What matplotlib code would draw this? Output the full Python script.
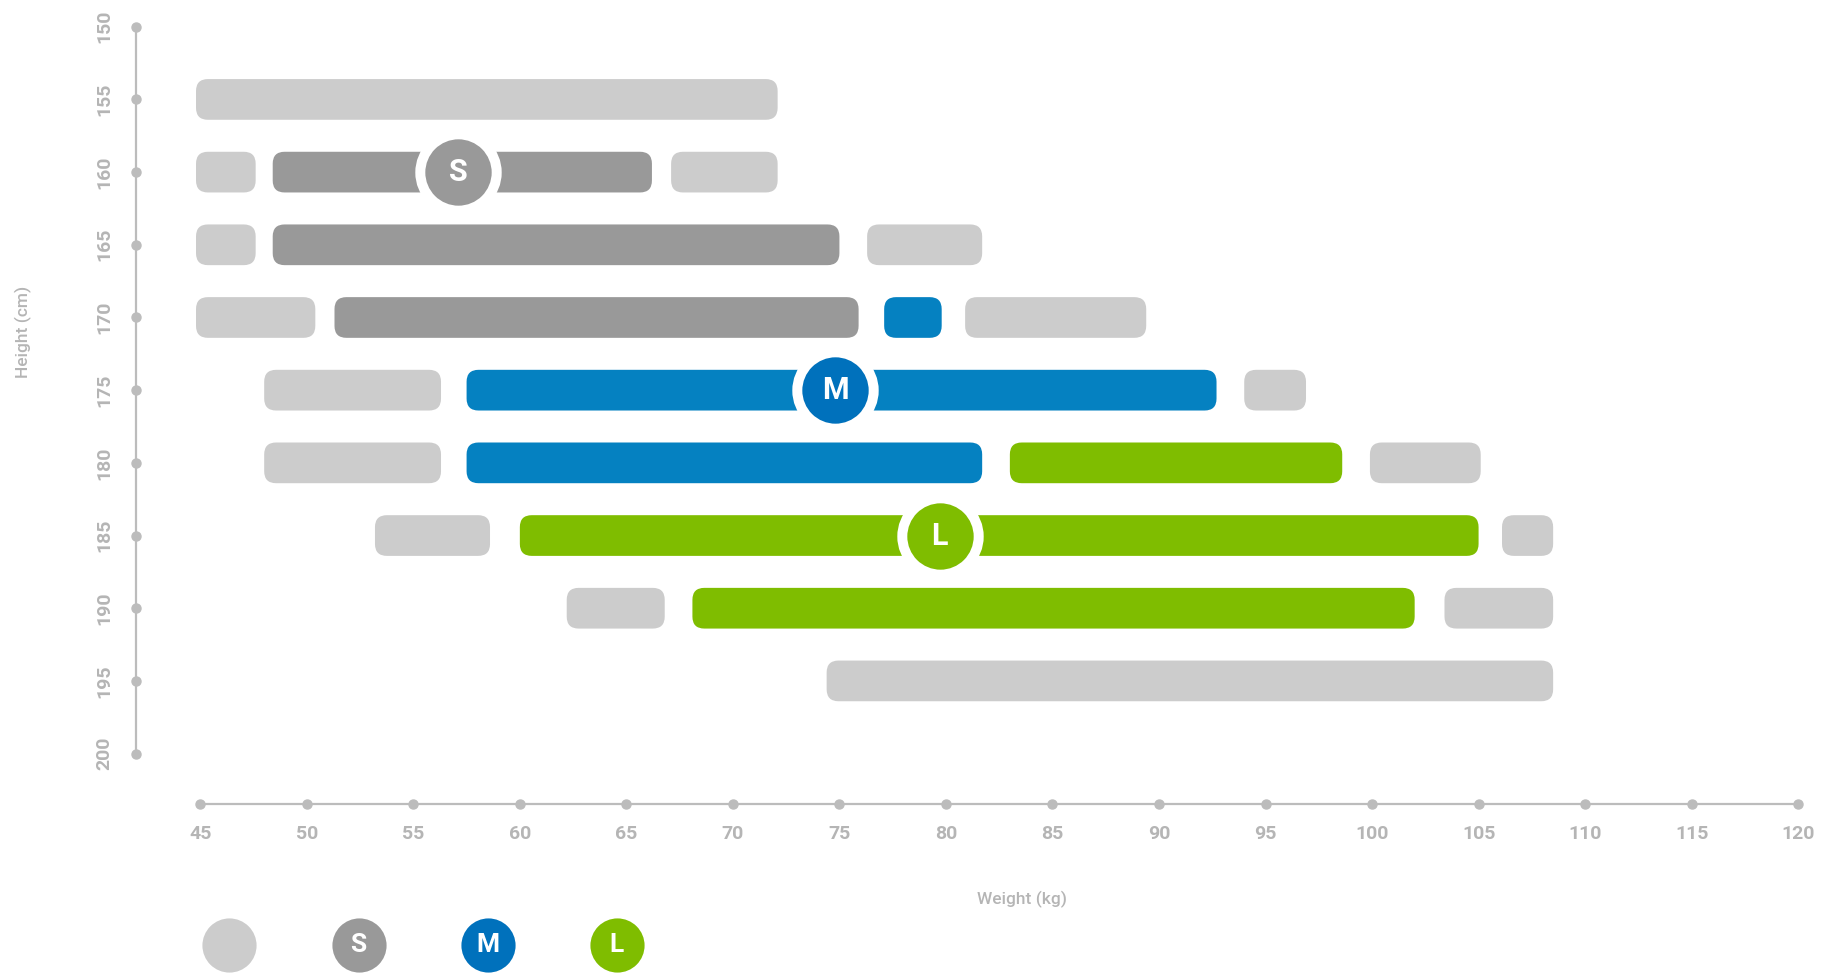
import numpy as np
import matplotlib.pyplot as plt
from matplotlib.patches import FancyBboxPatch

plt.rcParams["font.family"] = ["Roboto", "DejaVu Sans"]

# weight ticks (kg) and height ticks (cm)
weight_ticks = [45, 50, 55, 60, 65, 70, 75, 80, 85, 90, 95, 100, 105, 110, 115, 120]
height_ticks = [150, 155, 160, 165, 170, 175, 180, 185, 190, 195, 200]

# light grey segments (outside recommended range)
light_rows = [155, 160, 160, 165, 165, 170, 170, 175, 175, 180, 180, 185, 185, 190, 190, 195]
light_start = [44.8, 44.8, 67.1, 44.8, 76.3, 44.8, 80.9, 48.0, 94.0, 48.0, 99.9, 53.2, 106.1, 62.2, 103.4, 74.4]
light_end = [72.1, 47.6, 72.1, 47.6, 81.7, 50.4, 89.4, 56.3, 96.9, 56.3, 105.1, 58.6, 108.5, 66.8, 108.5, 108.5]

# size S
s_rows = [160, 165, 170]
s_start = [48.4, 48.4, 51.3]
s_end = [66.2, 75.0, 75.9]

# size M
m_rows = [170, 175, 180]
m_start = [77.1, 57.5, 57.5]
m_end = [79.8, 92.7, 81.7]

# size L
l_rows = [180, 185, 190]
l_start = [83.0, 60.0, 68.1]
l_end = [98.6, 105.0, 102.0]

size_labels = ["S", "M", "L"]
badge_weight = [57.1, 74.8, 79.7]
badge_height = [160, 175, 185]

c_light = "#cccccc"
c_s = "#999999"
c_m = "#0581c1"
c_m_badge = "#0071bc"
c_l = "#7fbd00"
c_axis = "#bcbcbc"
c_text = "#b5b5b5"

fig = plt.figure(figsize=(18.25, 9.76), dpi=100)
ax = fig.add_axes([0, 0, 1, 1])
ax.set_xlim(35.6, 121.26)
ax.set_ylim(215.3, 148.16)
ax.axis("off")

bar_h = 2.8
rad = 0.56
aspect = 0.69 / 0.47


def draw_bars(rows, starts, ends, color):
    for r, a, b in zip(rows, starts, ends):
        p = FancyBboxPatch((a, r - bar_h / 2), b - a, bar_h,
                           boxstyle="round,pad=0,rounding_size=%s" % rad,
                           mutation_aspect=aspect, fc=color, ec="none", zorder=2)
        ax.add_patch(p)


draw_bars(light_rows, light_start, light_end, c_light)
draw_bars(s_rows, s_start, s_end, c_s)
draw_bars(m_rows, m_start, m_end, c_m)
draw_bars(l_rows, l_start, l_end, c_l)

badge_colors = [c_s, c_m_badge, c_l]
for lab, w, h, c in zip(size_labels, badge_weight, badge_height, badge_colors):
    ax.plot(w, h, "o", ms=55, mfc=c, mec="white", mew=7.2, zorder=4)
    ax.text(w, h, lab, color="white", fontsize=22, fontweight="bold",
            ha="center", va="center", zorder=5)

# y axis
y_axis_x = 42.0
ax.plot([y_axis_x, y_axis_x], [height_ticks[0], height_ticks[-1]], color=c_axis, lw=1.6, zorder=1)
ax.plot([y_axis_x] * len(height_ticks), height_ticks, "o", color=c_axis, ms=6.5, zorder=1)
for h in height_ticks:
    ax.text(40.5, h, str(h), rotation=90, color=c_text, fontsize=14, fontweight="bold",
            ha="center", va="center")
ax.text(36.7, 171.0, "Height (cm)", rotation=90, color=c_text, fontsize=12.5,
        fontweight="medium", ha="center", va="center")

# x axis
x_axis_y = 203.45
ax.plot([weight_ticks[0], weight_ticks[-1]], [x_axis_y, x_axis_y], color=c_axis, lw=1.6, zorder=1)
ax.plot(weight_ticks, [x_axis_y] * len(weight_ticks), "o", color=c_axis, ms=6.5, zorder=1)
for w in weight_ticks:
    ax.text(w, 205.5, str(w), color=c_text, fontsize=14, fontweight="bold",
            ha="center", va="center")
ax.text(83.57, 210.05, "Weight (kg)", color=c_text, fontsize=12.5, fontweight="medium",
        ha="center", va="center")

# legend
legend_x = [46.37, 52.43, 58.49, 64.56]
legend_labels = ["", "S", "M", "L"]
legend_colors = [c_light, c_s, c_m_badge, c_l]
for x, lab, c in zip(legend_x, legend_labels, legend_colors):
    ax.plot(x, 213.2, "o", ms=39, mfc=c, mec="none")
    ax.text(x, 213.2, lab, color="white", fontsize=19, fontweight="bold",
            ha="center", va="center")

fig.savefig("out.png", dpi=100, facecolor="white")
